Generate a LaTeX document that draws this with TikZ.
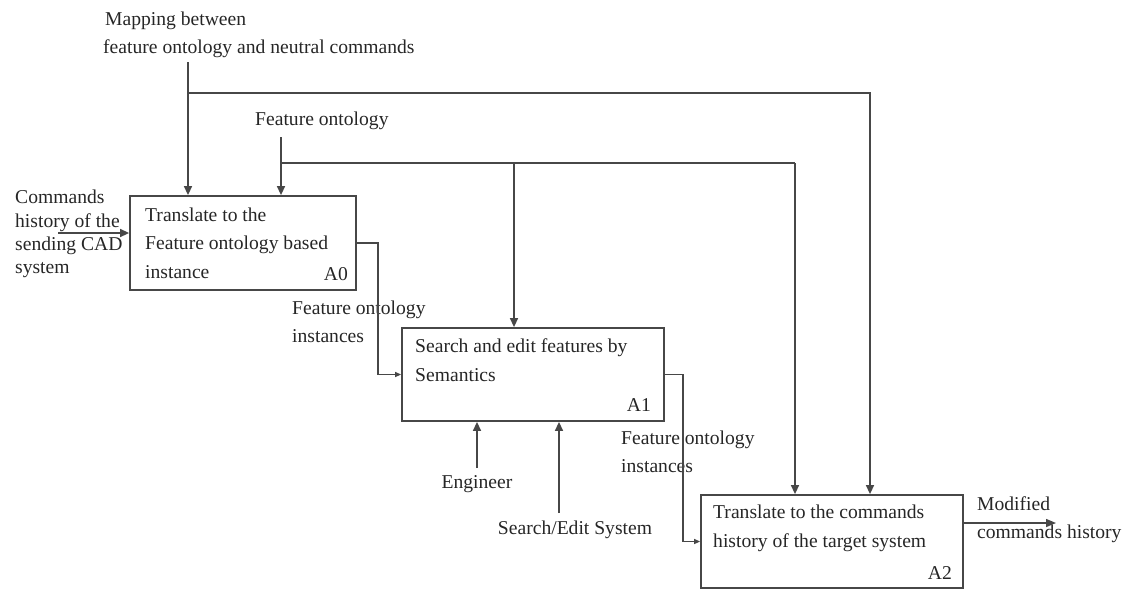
\documentclass[tikz,border=0pt]{standalone}
\usepackage{fontspec}
\setmainfont{Liberation Serif}
\usetikzlibrary{arrows.meta}

\begin{document}
\begin{tikzpicture}[x=1pt,y=-1pt,
  box/.style={draw=black!72,line width=1.8pt,minimum width=#1,minimum height=93pt,inner sep=0pt},
  lbl/.style={anchor=base west,inner sep=0pt,text=black!85,font=\fontsize{19.6}{28}\selectfont},
  tag/.style={anchor=base east,inner sep=0pt,text=black!85,font=\fontsize{19.6}{28}\selectfont},
  wire/.style={draw=black!72,line width=1.4pt},
  ctrl/.style={wire,-{Triangle[length=9pt,width=8pt]}},
  small/.style={wire,-{Triangle[length=6pt,width=5pt]}}
]
\useasboundingbox (0,0) rectangle (1125,590);

% activity boxes
\node[box=226pt,minimum height=94pt] (a0) at (243,243) {};
\node[box=262pt] (a1) at (533,374.5) {};
\node[box=262pt] (a2) at (832,541.5) {};

% box texts
\node[lbl] (a0t1) at (145,221) {Translate to the};
\node[lbl] (a0t2) at (145,249) {Feature ontology based};
\node[lbl] (a0t3) at (145,278) {instance};
\node[tag] (a0n) at (348,280) {A0};

\node[lbl] (a1t1) at (415,352) {Search and edit features by};
\node[lbl] (a1t2) at (415,381) {Semantics};
\node[tag] (a1n) at (651,411) {A1};

\node[lbl] (a2t1) at (713,518) {Translate to the commands};
\node[lbl] (a2t2) at (713,547) {history of the target system};
\node[tag] (a2n) at (952,579) {A2};

% outer labels
\node[lbl] (map1) at (105,25) {Mapping between};
\node[lbl] (map2) at (103,53) {feature ontology and neutral commands};
\node[lbl] (fo) at (255,125) {Feature ontology};

\node[lbl] (cmd1) at (15,203) {Commands};
\node[lbl] (cmd2) at (15,227) {history of the};
\node[lbl] (cmd3) at (15,250) {sending CAD};
\node[lbl] (cmd4) at (15,273) {system};

\node[lbl] (foi1) at (292,314) {Feature ontology};
\node[lbl] (foi2) at (292,342) {instances};
\node[lbl] (foj1) at (621,444) {Feature ontology};
\node[lbl] (foj2) at (621,472) {instances};

\node[lbl,anchor=base] (eng) at (477,488) {Engineer};
\node[lbl,anchor=base] (ses) at (575,534) {Search/Edit System};

\node[lbl] (mod1) at (977,510) {Modified};
\node[lbl] (mod2) at (977,538) {commands history};

% connector points
\coordinate (mapsrc) at (188,62);
\coordinate (mapj) at (188,93);
\coordinate (mapc) at (870,93);
\coordinate (fosrc) at (281,137);
\coordinate (foj) at (281,163);
\coordinate (foa1) at (514,163);
\coordinate (foc) at (795,163);
\coordinate (cmdsrc) at (58,233);
\coordinate (o0) at (378,243);
\coordinate (o1) at (683,374.5);
\coordinate (outend) at (1056,523);
\coordinate (engsrc) at (477,468);
\coordinate (sessrc) at (559,513);

% controls
\draw[ctrl] (mapsrc) -- (mapsrc |- a0.north);
\draw[ctrl] (mapj) -- (mapc) -- (mapc |- a2.north);
\draw[ctrl] (fosrc) -- (fosrc |- a0.north);
\draw[wire] (foj) -- (foc);
\draw[ctrl] (foc) -- (foc |- a2.north);
\draw[ctrl] (foa1) -- (foa1 |- a1.north);

% inputs and outputs
\draw[ctrl] (cmdsrc) -- (a0.west |- cmdsrc);
\draw[small] (a0.east) -- (o0) -- (o0 |- a1.west) -- (a1.west);
\draw[small] (a1.east) -- (o1) -- (o1 |- a2.west) -- (a2.west);
\draw[wire,-{Triangle[length=10pt,width=8pt]}] (a2.east |- outend) -- (outend);

% mechanisms
\draw[ctrl] (engsrc) -- (engsrc |- a1.south);
\draw[ctrl] (sessrc) -- (sessrc |- a1.south);
\end{tikzpicture}
\end{document}
